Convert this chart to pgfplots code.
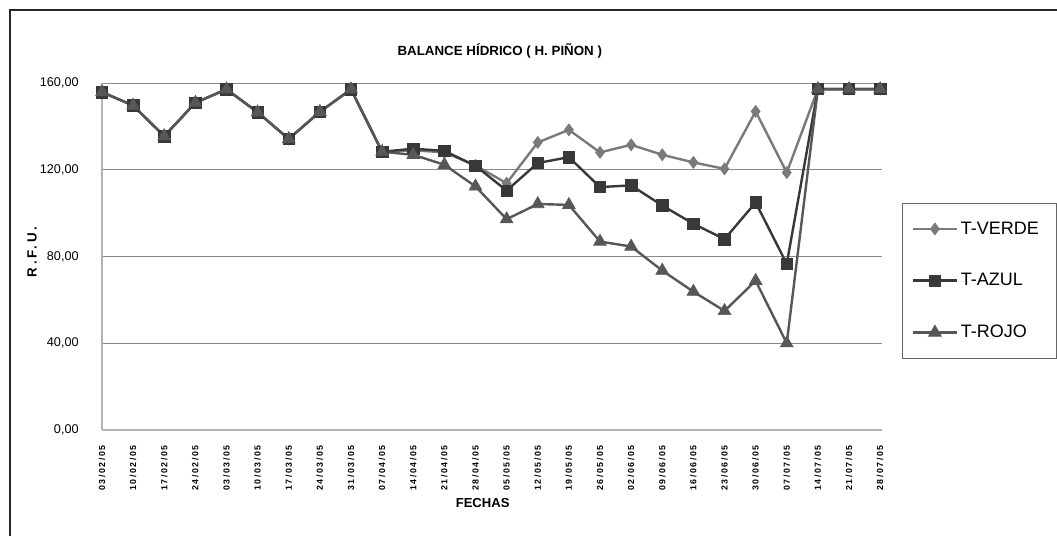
\documentclass[border=0pt]{standalone}
\usepackage{pgfplots}
\pgfplotsset{compat=1.18}
\usepackage{fontspec}
\setmainfont{Liberation Sans}
\newfontfamily\tickfont[LetterSpace=18]{Liberation Sans}
\newfontfamily\labfont[LetterSpace=20]{Liberation Sans}
\definecolor{cverde}{HTML}{7A7A7A}
\definecolor{cazul}{HTML}{383838}
\definecolor{crojo}{HTML}{575757}
\definecolor{cgrid}{HTML}{8A8A8A}
\definecolor{caxis}{HTML}{B4B4B4}
\begin{document}
\begin{tikzpicture}
\path[use as bounding box] (0,0) rectangle (792.75pt,402pt);
\draw[line width=1.6pt, color=black!85] (7.5pt,0pt) -- (7.5pt,394.5pt) -- (792.75pt,394.5pt);
\begin{axis}[
  at={(76.5pt,79.5pt)}, anchor=south west,
  scale only axis, width=585pt, height=260.25pt,
  xmin=0, xmax=25.06, ymin=0, ymax=160,
  axis x line*=bottom, axis y line*=left,
  axis line style={color=caxis, line width=1.1pt, -},
  xtick={0,...,25},
  xticklabels={03/02/05,10/02/05,17/02/05,24/02/05,03/03/05,10/03/05,17/03/05,24/03/05,31/03/05,07/04/05,14/04/05,21/04/05,28/04/05,05/05/05,12/05/05,19/05/05,26/05/05,02/06/05,09/06/05,16/06/05,23/06/05,30/06/05,07/07/05,14/07/05,21/07/05,28/07/05},
  xticklabel style={rotate=90, anchor=east, font=\tickfont\bfseries\fontsize{6.6}{7}\selectfont},
  xticklabel shift=8pt,
  ytick={0,40,80,120,160},
  yticklabel style={font=\fontsize{9.5}{11}\selectfont},
  yticklabel shift=14pt,
  /pgf/number format/.cd, fixed, fixed zerofill, precision=2, use comma, 1000 sep={}, assume math mode=true,
  /pgfplots/.cd,
  major tick length=0pt,
  ymajorgrids, grid style={color=cgrid, line width=0.7pt},
  clip=false,
  every axis y label/.style={at={(rel axis cs:-0.0897,0.513)}, rotate=90, anchor=center, font=\labfont\bfseries\fontsize{10}{12}\selectfont},
  ylabel={R.F.U.},
  every axis x label/.style={at={(rel axis cs:0.488,-0.21)}, anchor=center, font=\bfseries\fontsize{9.8}{11}\selectfont},
  xlabel={FECHAS},
  title={BALANCE HÍDRICO ( H. PIÑON )},
  every axis title/.style={at={(rel axis cs:0.51,1.092)}, anchor=center, font=\bfseries\fontsize{10}{12}\selectfont},
  legend style={at={(rel axis cs:1.0256,0.655)}, anchor=north west, draw=black!60, line width=0.6pt, fill=white,
    font=\fontsize{13.5}{15}\selectfont, row sep=24pt, inner xsep=7pt, inner ysep=12pt},
  legend cell align=left,
  legend image code/.code={\draw[mark repeat=2, mark phase=2] plot coordinates {(0pt,0pt) (16.5pt,0pt) (33pt,0pt)};},
]
\addplot[color=cverde, line width=1.8pt, mark=diamond*, mark size=4.5pt, mark options={solid, fill=cverde, line width=0.5pt}] coordinates {
(0,155.8) (1,149.6) (2,135.5) (3,150.9) (4,157.1) (5,146.5) (6,134.2) (7,146.7) (8,157.1) (9,128.3)
(10,129.0) (11,128.0) (12,122.0) (13,113.8) (14,132.6) (15,138.4) (16,128.0) (17,131.5) (18,126.9) (19,123.4)
(20,120.4) (21,146.9) (22,118.7) (23,157.2) (24,157.2) (25,157.2)};
\addlegendentry{T-VERDE\hspace*{4pt}}
\addplot[color=cazul, line width=1.8pt, mark=square*, mark size=4.3pt, mark options={solid, fill=cazul, line width=0.5pt}] coordinates {
(0,155.8) (1,149.6) (2,135.5) (3,150.9) (4,157.1) (5,146.5) (6,134.2) (7,146.7) (8,157.1) (9,128.3)
(10,129.7) (11,128.7) (12,121.8) (13,110.4) (14,123.1) (15,125.8) (16,112.0) (17,112.8) (18,103.5) (19,95.1)
(20,88.0) (21,104.9) (22,76.6) (23,157.2) (24,157.2) (25,157.2)};
\addlegendentry{T-AZUL}
\addplot[color=crojo, line width=1.8pt, mark=triangle*, mark size=5.5pt, mark options={solid, fill=crojo, line width=0.5pt}] coordinates {
(0,155.8) (1,149.6) (2,135.5) (3,150.9) (4,157.1) (5,146.5) (6,134.2) (7,146.7) (8,157.1) (9,128.3)
(10,126.9) (11,122.3) (12,112.3) (13,97.2) (14,104.2) (15,103.8) (16,86.9) (17,84.6) (18,73.5) (19,63.8)
(20,54.9) (21,68.8) (22,40.0) (23,157.2) (24,157.2) (25,157.2)};
\addlegendentry{T-ROJO}
\end{axis}
\end{tikzpicture}
\end{document}
